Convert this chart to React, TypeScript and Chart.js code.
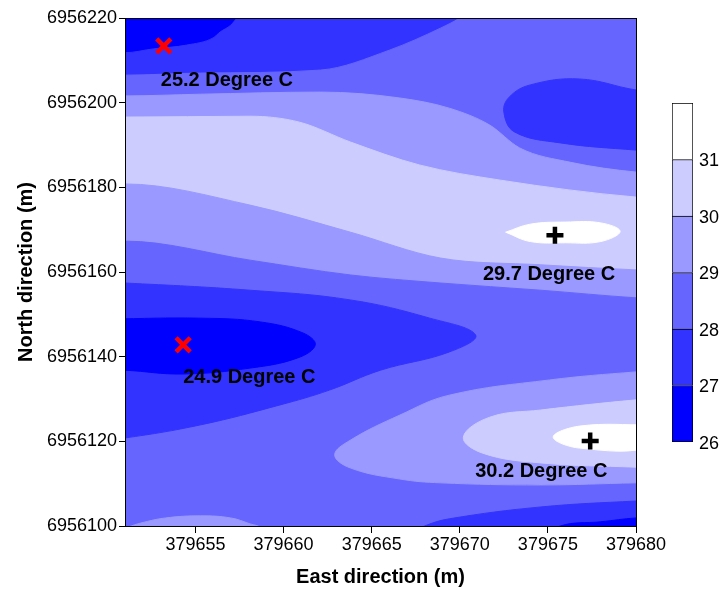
import React, { useEffect, useRef } from 'react';
import { Chart, registerables } from 'chart.js';
Chart.register(...registerables);

type Pt = [number, number];

const xTicks = [379655, 379660, 379665, 379670, 379675, 379680];
const yTicks = [6956100, 6956120, 6956140, 6956160, 6956180, 6956200, 6956220];
const levels = [26, 27, 28, 29, 30, 31, 32];
const cbTicks = [26, 27, 28, 29, 30, 31];
const bandColors = ['#0000FF', '#3333FF', '#6666FF', '#9999FF', '#CCCCFF', '#FFFFFF'];

// contour boundaries running west to east (area south of each line takes the band)
const curve27a: Pt[] = [[379650.0, 6956211.8], [379651.0, 6956211.8], [379652.6, 6956212.7], [379654.5, 6956213.6], [379656.0, 6956215.3], [379656.4, 6956216.7], [379657.0, 6956218.3], [379657.4, 6956220.2], [379658.0, 6956222.5], [379681.5, 6956222.5]];
const curve28a: Pt[] = [[379650.0, 6956206.5], [379651.0, 6956206.5], [379655.3, 6956207.0], [379662.1, 6956207.7], [379666.0, 6956212.4], [379668.9, 6956217.6], [379670.0, 6956220.0], [379671.0, 6956223.0], [379681.5, 6956223.0]];
const curve29a: Pt[] = [[379650.0, 6956201.6], [379651.0, 6956201.6], [379655.3, 6956202.0], [379662.1, 6956202.5], [379666.6, 6956201.1], [379669.4, 6956198.7], [379671.7, 6956194.7], [379673.4, 6956189.3], [379676.3, 6956185.9], [379680.0, 6956183.6], [379681.5, 6956183.3]];
const curve30a: Pt[] = [[379650.0, 6956196.6], [379651.0, 6956196.6], [379658.1, 6956196.8], [379660.9, 6956195.4], [379663.8, 6956190.7], [379667.7, 6956185.3], [379672.3, 6956181.7], [379680.0, 6956177.7], [379681.5, 6956177.4]];
const curve30b: Pt[] = [[379650.0, 6956180.8], [379651.0, 6956180.8], [379658.1, 6956175.8], [379663.8, 6956169.4], [379668.9, 6956163.3], [379674.6, 6956161.7], [379680.0, 6956160.5], [379681.5, 6956160.3]];
const curve29b: Pt[] = [[379650.0, 6956167.3], [379651.0, 6956167.3], [379658.1, 6956162.8], [379663.8, 6956159.3], [379668.9, 6956157.4], [379674.6, 6956155.7], [379680.0, 6956153.9], [379681.5, 6956153.6]];

// closed contour regions
const blob27NE: Pt[] = [[379680.8, 6956203.0], [379680.0, 6956203.0], [379676.8, 6956205.6], [379674.0, 6956204.2], [379672.8, 6956201.3], [379672.5, 6956197.8], [379673.1, 6956193.1], [379675.7, 6956190.5], [379680.0, 6956188.8], [379680.8, 6956188.8]];
const peak31N: Pt[] = [[379672.6, 6956169.4], [379674.0, 6956171.3], [379676.0, 6956171.8], [379678.0, 6956171.6], [379679.1, 6956169.6], [379678.0, 6956167.2], [379676.0, 6956166.9], [379674.0, 6956167.2]];
const ring27W: Pt[] = [[379650.1, 6956157.4], [379651.0, 6956157.4], [379658.1, 6956155.7], [379663.8, 6956153.4], [379668.3, 6956149.1], [379670.9, 6956145.1], [379669.4, 6956141.1], [379665.5, 6956136.8], [379662.6, 6956132.1], [379659.8, 6956128.6], [379655.3, 6956123.9], [379651.0, 6956120.8], [379650.1, 6956120.8]];
const pit26W: Pt[] = [[379650.1, 6956148.9], [379655.3, 6956149.1], [379658.7, 6956148.2], [379661.1, 6956145.6], [379661.8, 6956142.8], [379660.8, 6956139.7], [379658.1, 6956137.3], [379654.3, 6956135.9], [379651.0, 6956136.8], [379650.1, 6956136.8]];
const lobe29S: Pt[] = [[379680.8, 6956136.4], [379680.0, 6956136.4], [379675.1, 6956134.5], [379669.4, 6956130.9], [379666.6, 6956126.2], [379663.8, 6956120.3], [379662.9, 6956116.8], [379663.8, 6956113.7], [379666.6, 6956111.1], [379668.9, 6956110.2], [379674.6, 6956109.7], [379680.0, 6956110.2], [379680.8, 6956110.2]];
const lobe30S: Pt[] = [[379680.8, 6956129.8], [379680.0, 6956129.8], [379674.6, 6956127.4], [379671.7, 6956125.7], [379670.2, 6956121.0], [379671.3, 6956117.2], [379674.6, 6956114.9], [379680.0, 6956113.9], [379680.8, 6956113.9]];
const peak31S: Pt[] = [[379680.8, 6956123.9], [379676.8, 6956123.6], [379675.3, 6956121.0], [379676.8, 6956118.4], [379680.8, 6956118.7]];
const trough27S: Pt[] = [[379666.5, 6956097.0], [379668.0, 6956100.0], [379669.4, 6956101.7], [379674.6, 6956104.5], [379680.0, 6956105.9], [379681.5, 6956106.0], [379681.5, 6956097.0]];
const trough26S: Pt[] = [[379675.0, 6956097.0], [379675.7, 6956100.0], [379678.0, 6956101.0], [379680.0, 6956101.9], [379681.5, 6956102.0], [379681.5, 6956097.0]];
const bump29S: Pt[] = [[379651.2, 6956099.8], [379651.9, 6956100.7], [379653.3, 6956101.9], [379655.3, 6956102.4], [379657.0, 6956101.9], [379658.1, 6956100.5], [379658.7, 6956099.5], [379658.7, 6956097.0], [379651.2, 6956097.0]];

// extreme values
const minima = [
  { x: 379653.2, y: 6956213.4, t: 25.2 },
  { x: 379654.3, y: 6956142.8, t: 24.9 },
];
const maxima = [
  { x: 379675.4, y: 6956168.7, t: 29.7 },
  { x: 379677.4, y: 6956120.1, t: 30.2 },
];

const FONT = "'Liberation Sans', Arial, Helvetica, sans-serif";

const curveLayers: { pts: Pt[]; band: number }[] = [
  { pts: curve27a, band: 1 },
  { pts: curve28a, band: 2 },
  { pts: curve29a, band: 3 },
  { pts: curve30a, band: 4 },
  { pts: curve30b, band: 3 },
  { pts: curve29b, band: 2 },
];
const shapeLayers: { pts: Pt[]; band: number }[] = [
  { pts: blob27NE, band: 1 },
  { pts: peak31N, band: 5 },
  { pts: ring27W, band: 1 },
  { pts: pit26W, band: 0 },
  { pts: lobe29S, band: 3 },
  { pts: lobe30S, band: 4 },
  { pts: peak31S, band: 5 },
  { pts: trough27S, band: 1 },
  { pts: trough26S, band: 0 },
  { pts: bump29S, band: 3 },
];

const toXY = (pts: Pt[]) => pts.map(([x, y]) => ({ x, y }));

function mainConfig(): any {
  const datasets: any[] = [];
  let order = 1000;
  curveLayers.forEach((c) => {
    datasets.push({
      type: 'line',
      data: toXY(c.pts),
      fill: 'start',
      backgroundColor: bandColors[c.band],
      borderColor: bandColors[c.band],
      borderWidth: 1,
      pointRadius: 0,
      cubicInterpolationMode: 'monotone',
      capBezierPoints: false,
      order: order--,
    });
  });
  shapeLayers.forEach((s) => {
    datasets.push({
      type: 'line',
      data: toXY([...s.pts, s.pts[0]]),
      fill: 'shape',
      backgroundColor: bandColors[s.band],
      borderColor: bandColors[s.band],
      borderWidth: 1,
      pointRadius: 0,
      tension: 0.4,
      capBezierPoints: false,
      order: order--,
    });
  });
  datasets.push({
    type: 'scatter',
    data: minima.map((m) => ({ x: m.x, y: m.y })),
    pointStyle: 'crossRot',
    pointRadius: 10,
    pointBorderWidth: 4.5,
    pointBorderColor: '#FF0000',
    pointBackgroundColor: '#FF0000',
    order: -10,
  });
  datasets.push({
    type: 'scatter',
    data: maxima.map((m) => ({ x: m.x, y: m.y })),
    pointStyle: 'cross',
    pointRadius: 8.5,
    pointBorderWidth: 4.5,
    pointBorderColor: '#000000',
    pointBackgroundColor: '#000000',
    order: -11,
  });

  const labelOffsets: Pt[] = [[-3, 35], [0, 33], [-72, 39], [-115, 31]];

  const bgPlugin = {
    id: 'bgFill',
    beforeDatasetsDraw(chart: any) {
      const { ctx, chartArea: a } = chart;
      ctx.save();
      ctx.fillStyle = bandColors[0];
      ctx.fillRect(a.left, a.top, a.right - a.left, a.bottom - a.top);
      ctx.restore();
    },
  };
  const textPlugin = {
    id: 'extremaText',
    afterDatasetsDraw(chart: any) {
      const { ctx } = chart;
      const xs = chart.scales.x;
      const ys = chart.scales.y;
      ctx.save();
      ctx.font = `bold 20px ${FONT}`;
      ctx.fillStyle = '#000';
      ctx.textAlign = 'left';
      ctx.textBaseline = 'middle';
      [...minima, ...maxima].forEach((e, i) => {
        const px = xs.getPixelForValue(e.x);
        const py = ys.getPixelForValue(e.y);
        ctx.fillText(`${e.t} Degree C`, px + labelOffsets[i][0], py + labelOffsets[i][1]);
      });
      ctx.restore();
    },
  };
  const framePlugin = {
    id: 'frame',
    afterDraw(chart: any) {
      const { ctx, chartArea: a } = chart;
      ctx.save();
      ctx.strokeStyle = '#000';
      ctx.lineWidth = 1;
      ctx.strokeRect(a.left + 0.5, a.top + 0.5, a.right - a.left, a.bottom - a.top);
      ctx.restore();
    },
  };

  return {
    type: 'scatter',
    data: { datasets },
    plugins: [bgPlugin, textPlugin, framePlugin],
    options: {
      responsive: false,
      animation: false,
      events: [],
      layout: { padding: { left: 0, top: 18, right: 89, bottom: 0 } },
      plugins: { legend: { display: false }, tooltip: { enabled: false } },
      scales: {
        x: {
          type: 'linear',
          min: 379651,
          max: 379680,
          afterBuildTicks: (s: any) => { s.ticks = xTicks.map((v) => ({ value: v })); },
          afterFit: (s: any) => { s.height = 66; },
          grid: { drawOnChartArea: false, drawTicks: true, tickLength: 7, color: '#000', tickColor: '#000' },
          border: { display: false },
          ticks: { autoSkip: false, maxRotation: 0, padding: 1, color: '#000', font: { size: 18, family: FONT }, callback: (v: any) => String(v) },
          title: { display: true, text: 'East direction (m)', color: '#000', font: { size: 20, weight: 'bold', family: FONT }, padding: { top: 0, bottom: 3 } },
        },
        y: {
          type: 'linear',
          min: 6956100,
          max: 6956220,
          afterBuildTicks: (s: any) => { s.ticks = yTicks.map((v) => ({ value: v })); },
          afterFit: (s: any) => { s.width = 125; },
          grid: { drawOnChartArea: false, drawTicks: true, tickLength: 6, color: '#000', tickColor: '#000' },
          border: { display: false },
          ticks: { autoSkip: false, padding: 2, color: '#000', font: { size: 18, family: FONT }, callback: (v: any) => String(v) },
          title: { display: true, text: 'North direction (m)', color: '#000', font: { size: 20, weight: 'bold', family: FONT }, padding: { top: 14, bottom: 0 } },
        },
      },
    },
  };
}

function cbConfig(): any {
  const datasets = bandColors.map((c, i) => ({
    data: [[levels[i], levels[i + 1]]],
    backgroundColor: c,
    borderColor: '#000',
    borderWidth: i === 0 ? 1 : { top: 1, left: 1, right: 1, bottom: 0 },
    borderSkipped: false,
    barPercentage: 1,
    categoryPercentage: 1,
    grouped: false,
  }));
  return {
    type: 'bar',
    data: { labels: [''], datasets },
    options: {
      responsive: false,
      animation: false,
      events: [],
      layout: { padding: { left: 672, top: 103, right: 0, bottom: 150 } },
      plugins: { legend: { display: false }, tooltip: { enabled: false } },
      scales: {
        x: { display: false },
        y: {
          position: 'right',
          min: 26,
          max: 32,
          afterBuildTicks: (s: any) => { s.ticks = cbTicks.map((v) => ({ value: v })); },
          afterFit: (s: any) => { s.width = 32; },
          grid: { display: false, drawTicks: false },
          border: { display: false },
          ticks: { padding: 6, labelOffset: 2, color: '#000', font: { size: 18, family: FONT }, callback: (v: any) => String(v) },
        },
      },
    },
  };
}

export default function App() {
  const mainRef = useRef<HTMLCanvasElement>(null);
  const cbRef = useRef<HTMLCanvasElement>(null);
  useEffect(() => {
    Chart.defaults.font.family = FONT;
    const c1 = new Chart(mainRef.current as HTMLCanvasElement, mainConfig());
    const c2 = new Chart(cbRef.current as HTMLCanvasElement, cbConfig());
    return () => {
      c1.destroy();
      c2.destroy();
    };
  }, []);
  return (
    <div style={{ position: 'absolute', left: 0, top: 0, width: 725, height: 592, background: '#fff' }}>
      <canvas ref={mainRef} width={725} height={592} style={{ position: 'absolute', left: 0, top: 0 }} />
      <canvas ref={cbRef} width={725} height={592} style={{ position: 'absolute', left: 0, top: 0 }} />
    </div>
  );
}
